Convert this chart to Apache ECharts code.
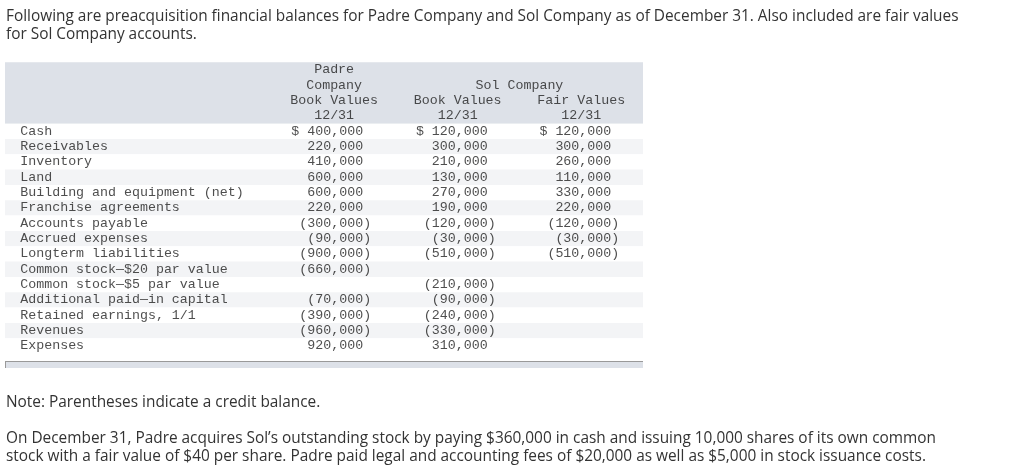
<!DOCTYPE html>
<html><head><meta charset="utf-8">
<script src="https://cdn.jsdelivr.net/npm/echarts@6/dist/echarts.min.js"></script>
<style>html,body{margin:0;padding:0;background:#fff}#c{width:1024px;height:472px}</style>
</head><body><div id="c"></div>
<script>
// ---- data ----
const introLines = ['Following are preacquisition financial balances for Padre Company and Sol Company as of December 31. Also included are fair values', 'for Sol Company accounts.'];
const noteText = 'Note: Parentheses indicate a credit balance.';
const bottomLines = ['On December 31, Padre acquires Sol\u2019s outstanding stock by paying $360,000 in cash and issuing 10,000 shares of its own common', 'stock with a fair value of $40 per share. Padre paid legal and accounting fees of $20,000 as well as $5,000 in stock issuance costs.'];

const headerPadre = ['Padre', 'Company', 'Book Values', '12/31'];
const headerSolGroup = 'Sol Company';
const headerSolBook = ['', '', 'Book Values', '12/31'];
const headerSolFair = ['', '', 'Fair Values', '12/31'];

const rowLabels = ['Cash', 'Receivables', 'Inventory', 'Land', 'Building and equipment (net)',
  'Franchise agreements', 'Accounts payable', 'Accrued expenses', 'Longterm liabilities',
  'Common stock\u2014$20 par value', 'Common stock\u2014$5 par value', 'Additional paid\u2014in capital',
  'Retained earnings, 1/1', 'Revenues', 'Expenses'];
const padreBook = [400000, 220000, 410000, 600000, 600000, 220000, -300000, -90000, -900000, -660000, null, -70000, -390000, -960000, 920000];
const solBook = [120000, 300000, 210000, 130000, 270000, 190000, -120000, -30000, -510000, null, -210000, -90000, -240000, -330000, 310000];
const solFair = [120000, 300000, 260000, 110000, 330000, 220000, -120000, -30000, -510000, null, null, null, null, null, null];

// ---- layout / style ----
const headerRows = ['h0', 'h1', 'h2', 'h3'];
const rowKeys = headerRows.concat(rowLabels.map((_, i) => 'r' + i));
const COL = { label: -1.5, padre: 1, solBook: 2, solFair: 3 };
const mono = 'Liberation Mono';
const monoSize = 13.3;
const textCol = '#222';
const headerBg = '#dde1e8';
const altBg = '#f3f4f6';
const sansFamily = 'Open Sans';

// fit the paragraph font so the first line spans the same width as the reference
const mctx = document.createElement('canvas').getContext('2d');
mctx.font = '100px "' + sansFamily + '"';
const sansSize = Math.round(100 * 950 / mctx.measureText(introLines[0]).width * 10) / 10;

function fmt(v, i) {
  if (v === null || v === undefined) return '';
  const s = Math.abs(v).toLocaleString('en-US');
  const body = v < 0 ? '(' + s + ')' : s + ' ';
  return i === 0 ? '$ ' + body : body;
}

function textSeries(points, align, offsetX) {
  return {
    type: 'scatter', symbolSize: 0, silent: true,
    data: points.filter(p => p[2] !== ''),
    label: {
      show: true, position: 'inside', align: align, verticalAlign: 'middle',
      offset: [offsetX, 0], color: textCol, fontFamily: mono, fontSize: monoSize,
      formatter: p => p.value[2]
    }
  };
}

const areaColors = [headerBg, headerBg, headerBg, headerBg].concat(rowLabels.map((_, i) => i % 2 ? altBg : '#ffffff'));

const series = [
  textSeries(rowLabels.map((t, i) => [COL.label, 'r' + i, t]), 'left', -5),
  textSeries(headerPadre.map((t, i) => [COL.padre, headerRows[i], t]), 'center', 0),
  textSeries(headerSolBook.map((t, i) => [COL.solBook, headerRows[i], t]), 'center', 0),
  textSeries(headerSolFair.map((t, i) => [COL.solFair, headerRows[i], t]), 'center', 0),
  textSeries([[(COL.solBook + COL.solFair) / 2, 'h1', headerSolGroup]], 'center', 0),
  textSeries(padreBook.map((v, i) => [COL.padre, 'r' + i, fmt(v, i)]), 'right', 37),
  textSeries(solBook.map((v, i) => [COL.solBook, 'r' + i, fmt(v, i)]), 'right', 38),
  textSeries(solFair.map((v, i) => [COL.solFair, 'r' + i, fmt(v, i)]), 'right', 38)
];

const chart = echarts.init(document.getElementById('c'), null, { renderer: 'canvas' });
const sansStyle = { fontFamily: sansFamily, fontSize: sansSize, fontWeight: 'normal', color: '#333', lineHeight: 18 };
chart.setOption({
  animation: false,
  backgroundColor: '#ffffff',
  title: [
    { text: introLines.join('\n'), left: 6, top: 8, padding: 0, textStyle: sansStyle },
    { text: noteText, left: 6, top: 394, padding: 0, textStyle: sansStyle },
    { text: bottomLines.join('\n'), left: 6, top: 430, padding: 0, textStyle: sansStyle }
  ],
  grid: { left: 5, right: 381, top: 62.3, height: 291.3 },
  xAxis: { type: 'value', min: -1.664, max: 3.5, show: false },
  yAxis: {
    type: 'category', inverse: true, data: rowKeys,
    axisLine: { show: false }, axisTick: { show: false }, axisLabel: { show: false },
    splitLine: { show: false },
    splitArea: { show: true, interval: 0, areaStyle: { color: areaColors } }
  },
  graphic: [
    { type: 'line', shape: { x1: 396, y1: 93.5, x2: 643, y2: 93.5 }, style: { stroke: '#222', lineWidth: 1 } },
    { type: 'rect', shape: { x: 5, y: 361, width: 638, height: 7 }, style: { fill: headerBg } },
    { type: 'line', shape: { x1: 5, y1: 361.5, x2: 643, y2: 361.5 }, style: { stroke: '#999', lineWidth: 1 } },
    { type: 'line', shape: { x1: 5.5, y1: 361, x2: 5.5, y2: 368 }, style: { stroke: '#999', lineWidth: 1 } }
  ],
  series: series
});
</script></body></html>
